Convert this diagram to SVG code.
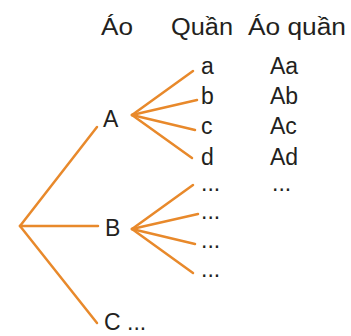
<svg xmlns="http://www.w3.org/2000/svg" width="351" height="336" viewBox="0 0 351 336">
<style>
text{font-family:"Liberation Sans",Arial,sans-serif;font-size:23px;fill:#231f20}
.c{stroke:#e8892b;stroke-width:2.5;fill:none;stroke-linecap:round}
</style>
<rect width="351" height="336" fill="#fff"/>
<g id="headers">
<text x="101" y="35" textLength="32" lengthAdjust="spacingAndGlyphs">Áo</text>
<text x="171" y="35" textLength="62" lengthAdjust="spacingAndGlyphs">Quần</text>
<text x="248" y="35" textLength="98" lengthAdjust="spacingAndGlyphs">Áo quần</text>
</g>
<g id="connectors" class="c">
<path d="M20 226 L97 127"/>
<path d="M20 226 L98 226"/>
<path d="M20 226 L97 323"/>
<path d="M132 115 L193 71"/>
<path d="M132 115 L197 100"/>
<path d="M132 115 L195 130"/>
<path d="M132 115 L192 158"/>
<path d="M132 229 L193 185"/>
<path d="M132 229 L198 214"/>
<path d="M132 229 L195 244"/>
<path d="M132 229 L193 273"/>
</g>
<g id="nodeA"><text x="103" y="127">A</text></g>
<g id="nodeB"><text x="105" y="236">B</text></g>
<g id="nodeC"><text x="104" y="330">C ...</text></g>
<g id="a"><text x="201" y="74">a</text></g>
<g id="b"><text x="201" y="104">b</text></g>
<g id="c"><text x="201" y="134">c</text></g>
<g id="d"><text x="201" y="165">d</text></g>
<g id="dots1"><text x="201" y="191">...</text></g>
<g id="dots2"><text x="201" y="219">...</text></g>
<g id="dots3"><text x="201" y="248">...</text></g>
<g id="dots4"><text x="201" y="277">...</text></g>
<g id="Aa"><text x="270" y="74">Aa</text></g>
<g id="Ab"><text x="270" y="104">Ab</text></g>
<g id="Ac"><text x="270" y="134">Ac</text></g>
<g id="Ad"><text x="270" y="165">Ad</text></g>
<g id="dots5"><text x="272" y="191">...</text></g>
</svg>
